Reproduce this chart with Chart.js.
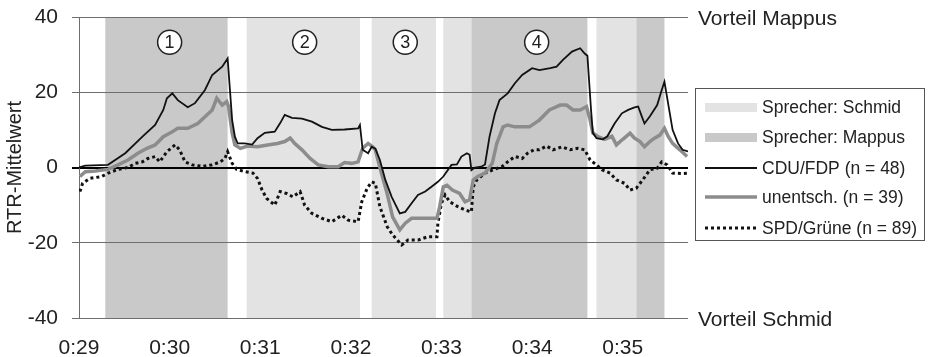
<!DOCTYPE html>
<html><head><meta charset="utf-8">
<script src="https://cdn.jsdelivr.net/npm/chart.js@4.4.0/dist/chart.umd.min.js"></script>
<style>html,body{margin:0;padding:0;background:#fff}canvas{display:block}</style>
</head><body>
<canvas id="c" width="928" height="357"></canvas>
<script>
// ---- data (time in minutes, value = RTR mean) ----
const xTickValues = [29, 30, 31, 32, 33, 34, 35];
const xTickLabels = ['0:29', '0:30', '0:31', '0:32', '0:33', '0:34', '0:35'];
const yTickValues = [-40, -20, 0, 20, 40];
const seriesNames = ['CDU/FDP (n = 48)', 'unentsch. (n = 39)', 'SPD/Grüne (n = 89)'];

const cduTime = [29.00,29.07,29.32,29.51,29.70,29.84,29.93,29.97,30.03,30.09,30.20,30.28,30.39,30.47,30.58,30.64,30.69,30.72,30.75,30.83,30.91,30.97,31.05,31.16,31.22,31.27,31.35,31.46,31.57,31.68,31.79,31.93,32.08,32.10,32.13,32.19,32.23,32.27,32.32,32.38,32.45,32.54,32.60,32.67,32.74,32.82,32.89,32.96,33.02,33.11,33.17,33.22,33.28,33.31,33.33,33.37,33.44,33.48,33.53,33.59,33.64,33.73,33.81,33.89,34.00,34.08,34.20,34.27,34.34,34.44,34.53,34.58,34.61,34.65,34.67,34.71,34.78,34.83,34.91,34.99,35.06,35.13,35.17,35.21,35.24,35.30,35.38,35.43,35.46,35.50,35.55,35.61,35.66,35.72];
const cduValue = [0.0,0.5,0.7,3.8,8.2,11.3,15.3,18.4,19.7,17.9,16.0,17.1,20.6,24.6,26.8,29.0,12.6,8.2,6.4,6.4,6.1,7.8,9.2,9.5,11.8,14.0,13.2,13.0,12.2,10.8,10.0,10.1,10.4,11.3,4.7,3.8,5.5,5.0,2.0,-3.3,-7.8,-12.2,-11.8,-9.5,-7.3,-6.4,-5.1,-3.8,-2.4,0.7,0.8,2.9,3.8,3.4,-0.7,0.0,0.2,0.8,8.2,14.4,17.9,19.7,22.4,24.6,26.4,25.9,26.4,26.8,28.6,30.8,31.7,30.3,29.7,15.3,9.2,7.8,7.5,8.3,11.7,14.4,15.3,16.0,16.2,13.6,11.7,13.6,16.6,20.6,22.8,17.1,10.0,6.4,4.7,4.3];

const undecTime = [29.01,29.07,29.18,29.32,29.43,29.54,29.65,29.75,29.84,29.93,30.03,30.09,30.20,30.31,30.39,30.47,30.52,30.58,30.63,30.65,30.69,30.72,30.78,30.86,30.97,31.08,31.19,31.27,31.33,31.38,31.46,31.55,31.64,31.75,31.86,31.93,32.01,32.08,32.13,32.19,32.24,32.27,32.32,32.40,32.46,32.54,32.60,32.67,32.78,32.89,32.95,32.98,33.02,33.06,33.12,33.20,33.26,33.31,33.35,33.40,33.48,33.56,33.61,33.68,33.73,33.81,33.89,33.97,34.08,34.19,34.31,34.38,34.45,34.53,34.60,34.64,34.67,34.72,34.80,34.88,34.93,35.00,35.08,35.13,35.19,35.24,35.30,35.35,35.41,35.46,35.50,35.55,35.63,35.71];
const undecValue = [-2.4,-1.1,-0.9,-0.5,0.7,2.0,3.8,5.1,6.0,8.2,9.5,10.4,10.4,11.7,13.5,15.3,18.4,16.6,17.5,16.2,9.2,6.0,5.1,5.7,5.5,6.0,6.4,6.9,7.8,6.4,4.7,2.4,0.7,0.2,0.2,1.3,1.1,1.5,5.1,6.4,5.5,4.7,0.0,-6.9,-13.1,-16.6,-14.8,-13.5,-13.5,-13.5,-13.5,-10.4,-5.1,-4.7,-6.0,-6.9,-9.1,-8.6,-3.3,-2.4,-1.5,1.1,6.4,10.8,11.3,10.8,10.8,10.8,12.6,15.3,16.6,16.6,15.3,15.3,16.2,12.6,9.2,8.3,7.5,8.3,6.0,7.5,9.1,7.8,6.9,5.5,6.9,7.8,8.6,10.4,8.3,6.4,4.7,2.9];

const spdTime = [29.01,29.04,29.12,29.25,29.32,29.43,29.54,29.62,29.70,29.76,29.84,29.89,29.97,30.06,30.11,30.17,30.25,30.36,30.47,30.56,30.61,30.64,30.69,30.74,30.83,30.92,30.97,31.02,31.07,31.16,31.22,31.29,31.36,31.44,31.49,31.57,31.68,31.79,31.90,31.97,32.08,32.12,32.18,32.23,32.27,32.32,32.40,32.46,32.56,32.63,32.74,32.85,32.95,32.96,33.00,33.04,33.09,33.18,33.26,33.33,33.35,33.39,33.48,33.57,33.67,33.73,33.81,33.89,33.95,34.02,34.08,34.16,34.23,34.33,34.42,34.50,34.58,34.64,34.71,34.77,34.86,34.93,35.02,35.08,35.15,35.22,35.30,35.38,35.43,35.49,35.55,35.66,35.72];
const spdValue = [-6.4,-4.2,-2.9,-2.4,-1.5,-0.5,0.0,1.1,1.5,2.4,2.9,1.5,4.2,6.0,4.7,1.5,0.7,0.3,0.7,1.5,2.4,4.2,1.1,-0.5,-1.1,-1.5,-2.9,-6.0,-8.2,-10.0,-6.4,-6.9,-7.8,-6.4,-10.0,-12.2,-13.5,-14.4,-12.7,-14.0,-14.4,-9.1,-5.5,-3.8,-4.2,-10.4,-15.7,-17.9,-20.6,-19.3,-19.3,-18.4,-18.4,-14.8,-9.5,-7.3,-9.1,-10.4,-11.3,-11.8,-5.1,-3.3,-1.5,-0.6,0.3,1.5,2.9,2.4,3.8,4.7,4.7,5.7,4.7,5.5,4.7,5.1,4.7,2.0,0.7,-0.6,-1.5,-3.3,-4.2,-6.0,-5.5,-3.3,-0.6,-0.2,1.5,0.7,-1.5,-1.6,-1.5];

const speakerStart = [29.29, 30.85, 32.23, 33.02, 33.33, 34.71, 35.15];
const speakerEnd   = [30.64, 32.10, 32.94, 33.33, 34.61, 35.15, 35.46];
const speakerName  = ['Mappus', 'Schmid', 'Schmid', 'Schmid', 'Mappus', 'Schmid', 'Mappus'];
const speakerLegend = ['Sprecher: Schmid', 'Sprecher: Mappus'];
const segmentNumbers = ['1', '2', '3', '4'];
const segmentTimes = [30.00, 31.49, 32.60, 34.05];
const sideLabels = ['Vorteil Mappus', 'Vorteil Schmid'];
const yTitle = 'RTR-Mittelwert';

// ---- styles ----
const FONT = '"Liberation Sans", Arial, sans-serif';
const SHADE = { Schmid: '#e3e3e3', Mappus: '#c9c9c9' };
const TEXT = '#222';

function pts(t, v) { return t.map((x, i) => ({ x: x, y: v[i] })); }

const decor = {
  id: 'decor',
  beforeDraw(chart) {
    const { ctx, chartArea: a, scales: { x } } = chart;
    ctx.save();
    ctx.fillStyle = '#fff';
    ctx.fillRect(0, 0, chart.width, chart.height);
    for (let i = 0; i < speakerStart.length; i++) {
      const x0 = x.getPixelForValue(speakerStart[i]);
      const x1 = x.getPixelForValue(speakerEnd[i]);
      ctx.fillStyle = SHADE[speakerName[i]];
      ctx.fillRect(x0, a.top, x1 - x0, a.bottom - a.top);
    }
    ctx.restore();
  },
  afterDatasetsDraw(chart) {
    const { ctx, scales: { x, y } } = chart;
    ctx.save();
    const cy = y.getPixelForValue(33.3);
    for (let i = 0; i < segmentNumbers.length; i++) {
      const cx = x.getPixelForValue(segmentTimes[i]);
      ctx.beginPath();
      ctx.arc(cx, cy, 12, 0, Math.PI * 2);
      ctx.fillStyle = '#fff';
      ctx.fill();
      ctx.lineWidth = 1.5;
      ctx.strokeStyle = '#222';
      ctx.stroke();
      ctx.fillStyle = TEXT;
      ctx.font = '18px ' + FONT;
      ctx.textAlign = 'center';
      ctx.textBaseline = 'middle';
      ctx.fillText(segmentNumbers[i], cx, cy + 1);
    }
    ctx.restore();
  },
  afterDraw(chart) {
    const { ctx, chartArea: a, scales: { y } } = chart;
    ctx.save();
    ctx.fillStyle = TEXT;
    ctx.font = '21px ' + FONT;
    ctx.textAlign = 'left';
    ctx.textBaseline = 'middle';
    ctx.fillText(sideLabels[0], a.right + 10, y.getPixelForValue(40) + 2);
    ctx.fillText(sideLabels[1], a.right + 10, y.getPixelForValue(-40) + 2);

    // legend box
    const lx = a.right + 7, ly = 88, lw = 229, lh = 152;
    ctx.strokeStyle = '#555';
    ctx.lineWidth = 1;
    ctx.strokeRect(lx + 0.5, ly + 0.5, lw, lh);
    const rows = [107, 137, 168, 197, 228];
    const sx0 = lx + 10, sx1 = lx + 62, tx = lx + 67;
    ctx.font = '17.5px ' + FONT;
    ctx.fillStyle = SHADE.Schmid; ctx.fillRect(sx0, rows[0] - 4, sx1 - sx0, 9);
    ctx.fillStyle = SHADE.Mappus; ctx.fillRect(sx0, rows[1] - 4, sx1 - sx0, 9);
    ctx.fillStyle = TEXT;
    ctx.fillText(speakerLegend[0], tx, rows[0] + 1);
    ctx.fillText(speakerLegend[1], tx, rows[1] + 1);
    chart.data.datasets.forEach((ds, i) => {
      const ry = rows[i + 2];
      ctx.save();
      ctx.strokeStyle = ds.borderColor;
      ctx.lineWidth = ds.borderWidth;
      ctx.setLineDash(ds.borderDash || []);
      ctx.lineCap = 'butt';
      ctx.beginPath();
      ctx.moveTo(sx0, ry);
      ctx.lineTo(sx1, ry);
      ctx.stroke();
      ctx.restore();
      ctx.fillStyle = TEXT;
      ctx.fillText(ds.label, tx, ry + 1);
    });
    ctx.restore();
  }
};

new Chart(document.getElementById('c'), {
  type: 'line',
  data: {
    datasets: [
      { label: seriesNames[0], data: pts(cduTime, cduValue), borderColor: '#111', borderWidth: 1.8, pointRadius: 0, tension: 0, fill: false },
      { label: seriesNames[1], data: pts(undecTime, undecValue), borderColor: '#8c8c8c', borderWidth: 3.5, pointRadius: 0, tension: 0, fill: false },
      { label: seriesNames[2], data: pts(spdTime, spdValue), borderColor: '#111', borderWidth: 3, borderDash: [3, 3], pointRadius: 0, tension: 0, fill: false }
    ]
  },
  options: {
    responsive: false,
    animation: false,
    devicePixelRatio: 1,
    layout: { padding: { top: 17, right: 240, left: 0, bottom: 0 } },
    plugins: { legend: { display: false }, tooltip: { enabled: false } },
    scales: {
      x: {
        type: 'linear',
        min: 29, max: 35.72,
        grid: { display: false, drawTicks: false },
        border: { display: false },
        afterBuildTicks: s => { s.ticks = xTickValues.map(v => ({ value: v })); },
        afterFit: s => { s.height = 39; },
        ticks: {
          maxRotation: 0, autoSkip: false, padding: 18, color: TEXT,
          font: { family: FONT, size: 21 },
          callback: v => xTickLabels[xTickValues.indexOf(v)]
        }
      },
      y: {
        min: -40, max: 40,
        afterBuildTicks: s => { s.ticks = yTickValues.map(v => ({ value: v })); },
        afterFit: s => { s.width = 79; s.paddingTop = 0; s.paddingBottom = 0; },
        grid: {
          color: c => c.tick && c.tick.value === 0 ? '#000' : '#6e6e6e',
          lineWidth: c => c.tick && c.tick.value === 0 ? 2 : 1,
          tickLength: 7, drawTicks: true
        },
        border: { display: true, color: '#6e6e6e', width: 1 },
        ticks: { padding: 14, color: TEXT, font: { family: FONT, size: 21 } },
        title: { display: true, text: yTitle, color: TEXT, font: { family: FONT, size: 20 }, padding: { top: 3, bottom: 0 } }
      }
    }
  },
  plugins: [decor]
});
</script>
</body></html>
